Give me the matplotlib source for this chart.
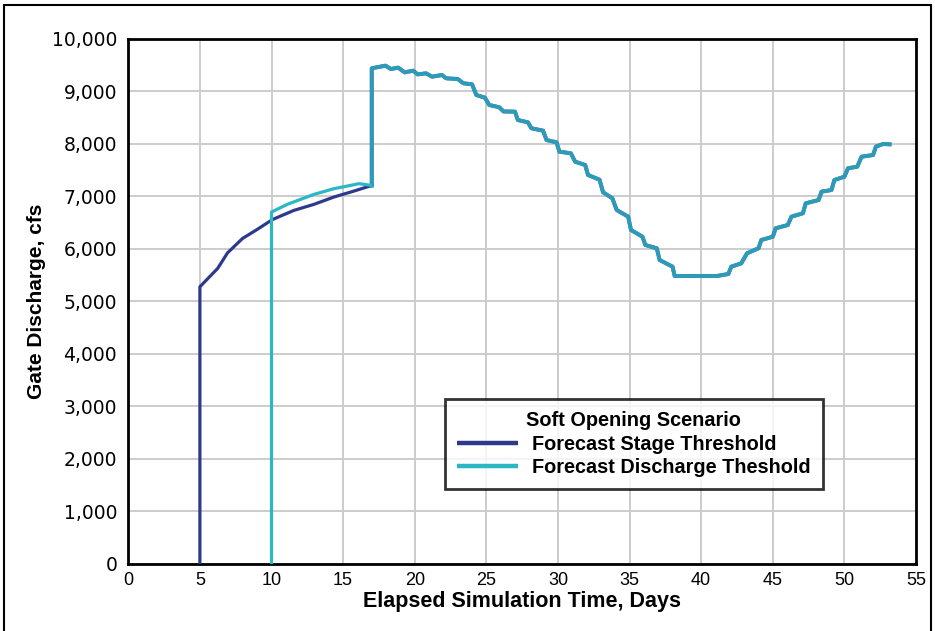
import matplotlib
matplotlib.use("Agg")
import matplotlib.pyplot as plt
from matplotlib import font_manager
from matplotlib.patches import Rectangle
from matplotlib.ticker import FuncFormatter, MultipleLocator

# ---- data ----
stage_days = [5.0, 5.0, 6.24, 6.93, 7.97, 9.02, 10.06, 11.57, 12.96, 14.35, 15.74, 17.0]
stage_cfs = [0, 5280, 5630, 5926, 6199, 6376, 6560, 6736, 6850, 6989, 7102, 7210]

discharge_days = [10.0, 10.0, 11.1, 12.96, 14.35, 15.86, 16.1, 17.0]
discharge_cfs = [0, 6704, 6850, 7040, 7148, 7230, 7245, 7210]

# shared part of both scenarios (day 17 onwards)
common_days = [17.0, 17.0, 17.96, 18.33, 18.84, 19.3, 19.9, 20.2, 20.8, 21.2, 21.9, 22.2,
               23.0, 23.4, 24.0, 24.3, 24.9, 25.2, 25.9, 26.2, 27.0, 27.2, 27.9, 28.15,
               28.96, 29.2, 29.9, 30.1, 30.9, 31.2, 31.9, 32.1, 32.9, 33.15, 33.8, 34.1,
               34.9, 35.1, 35.9, 36.1, 36.9, 37.1, 38.0, 38.15, 41.1, 41.9, 42.1, 42.8,
               43.2, 44.0, 44.2, 45.0, 45.2, 46.05, 46.3, 47.1, 47.3, 48.2, 48.4, 49.1,
               49.3, 50.0, 50.25, 50.9, 51.2, 52.0, 52.2, 52.7, 53.15]
common_cfs = [7210, 9442, 9492, 9429, 9454, 9365, 9396, 9326, 9346, 9282, 9314, 9251,
              9238, 9156, 9137, 8933, 8882, 8743, 8700, 8620, 8616, 8457, 8413, 8299,
              8254, 8076, 8032, 7854, 7822, 7663, 7600, 7410, 7320, 7080, 6966, 6743,
              6616, 6362, 6234, 6076, 6013, 5790, 5663, 5486, 5486, 5524, 5663, 5727,
              5918, 6013, 6171, 6234, 6394, 6457, 6616, 6680, 6870, 6933, 7092, 7124,
              7314, 7377, 7537, 7568, 7758, 7790, 7949, 8000, 7994]

legend_title = "Soft Opening Scenario"
series_names = ["Forecast Stage Threshold", "Forecast Discharge Theshold"]
x_ticks = [0, 5, 10, 15, 20, 25, 30, 35, 40, 45, 50, 55]

# ---- fonts ----
available = {f.name for f in font_manager.fontManager.ttflist}
narrow = "Liberation Sans Narrow" if "Liberation Sans Narrow" in available else "Liberation Sans"
base = "Liberation Sans" if "Liberation Sans" in available else "DejaVu Sans"
plt.rcParams["font.family"] = [base, "DejaVu Sans"]

BLUE = "#2d3a8c"
TEAL = "#2bb7c6"

fig = plt.figure(figsize=(9.35, 6.31), dpi=100)
ax = fig.add_axes([0.1372, 0.1062, 0.8425, 0.832])

ax.plot(stage_days, stage_cfs, color=BLUE, lw=2.3, solid_capstyle="butt", zorder=3,
        label=series_names[0])
ax.plot(common_days, common_cfs, color=BLUE, lw=2.8, zorder=3)
ax.plot(discharge_days, discharge_cfs, color=TEAL, lw=2.3, solid_capstyle="butt", zorder=4,
        label=series_names[1])
ax.plot(common_days, common_cfs, color=TEAL, lw=2.8, alpha=0.78, zorder=4)

ax.set_xlim(0, 55)
ax.set_ylim(0, 10000)
ax.set_xticks(x_ticks)
ax.yaxis.set_major_locator(MultipleLocator(1000))
ax.yaxis.set_major_formatter(FuncFormatter(lambda v, p: f"{int(v):,}"))

ax.grid(True, color="#cccccc", lw=1.4)
ax.set_axisbelow(True)
for s in ax.spines.values():
    s.set_color("black")
    s.set_linewidth(2.0)

ax.tick_params(axis="y", length=0, pad=8)
ax.tick_params(axis="x", length=0, pad=6)
for lab in ax.get_yticklabels():
    lab.set_fontfamily(["DejaVu Sans"])
    lab.set_fontsize(13.5)
for lab in ax.get_xticklabels():
    lab.set_fontfamily([narrow, base])
    lab.set_fontsize(13)

ax.set_xlabel("Elapsed Simulation Time, Days", fontsize=15.5, fontweight="bold",
              family=[narrow, base], labelpad=1)
ax.set_ylabel("Gate Discharge, cfs", fontsize=15, fontweight="bold", labelpad=4)

leg = ax.legend(loc="lower left", bbox_to_anchor=(0.402, 0.143), title=legend_title,
                title_fontproperties={"weight": "bold", "size": 14.3},
                prop={"weight": "bold", "size": 14.3}, frameon=True, fancybox=False,
                edgecolor="black", handlelength=3.1, handletextpad=0.7,
                borderpad=0.6, labelspacing=0.22, borderaxespad=0)
leg.get_frame().set_linewidth(2.0)
for h in leg.get_lines():
    h.set_linewidth(3.2)

# outer figure border
fig.patches.append(Rectangle((4 / 935, -0.05), 927 / 935, 1.05 - 5 / 631,
                             transform=fig.transFigure, fill=False, edgecolor="black",
                             lw=1.5, clip_on=False))

fig.savefig("out.png", dpi=100)
